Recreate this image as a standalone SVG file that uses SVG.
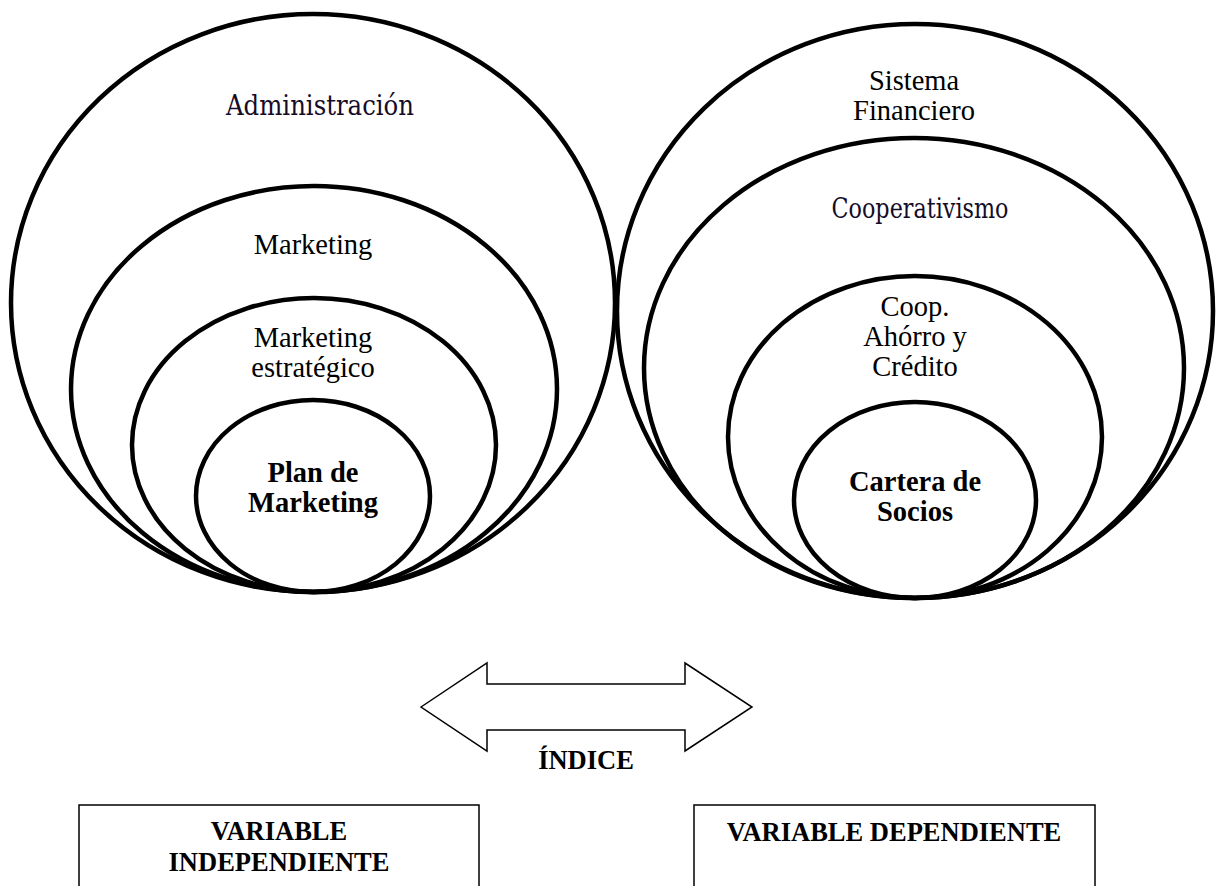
<svg xmlns="http://www.w3.org/2000/svg" width="1216" height="886" viewBox="0 0 1216 886">
  <style>
    .ring { fill: none; stroke: #000; stroke-width: 4.5; }
    .txt { font-family: "Liberation Serif", "Times New Roman", serif; font-size: 28.5px; fill: #000; text-anchor: middle; }
    .bold { font-weight: bold; }
    .alt { font-family: "DejaVu Serif", "Liberation Serif", serif; fill: #150c28; text-anchor: middle; }
    .box { fill: none; stroke: #000; stroke-width: 1.5; }
    .lbl { font-family: "Liberation Serif", "Times New Roman", serif; font-weight: bold; font-size: 26.5px; fill: #000; text-anchor: middle; }
  </style>
  <rect width="1216" height="886" fill="#fff"/>

  <!-- left nest -->
  <g id="administracion">
    <ellipse class="ring" cx="313" cy="303" rx="302" ry="289"/>
    <text class="alt" x="320" y="115" font-size="28" textLength="188" lengthAdjust="spacingAndGlyphs">Administración</text>
  </g>
  <g id="marketing">
    <ellipse class="ring" cx="314" cy="389" rx="243" ry="203"/>
    <text class="txt" x="313" y="254">Marketing</text>
  </g>
  <g id="marketing-estrategico">
    <ellipse class="ring" cx="314" cy="445" rx="182" ry="147"/>
    <text class="txt" x="313" y="347">Marketing</text>
    <text class="txt" x="313" y="377">estratégico</text>
  </g>
  <g id="plan-marketing">
    <ellipse class="ring" cx="313" cy="496" rx="117" ry="96"/>
    <text class="txt bold" x="313" y="482">Plan de</text>
    <text class="txt bold" x="313" y="512">Marketing</text>
  </g>

  <!-- right nest -->
  <g id="sistema-financiero">
    <ellipse class="ring" cx="915" cy="311" rx="298" ry="287"/>
    <text class="txt" x="914" y="90">Sistema</text>
    <text class="txt" x="914" y="120">Financiero</text>
  </g>
  <g id="cooperativismo">
    <ellipse class="ring" cx="914" cy="368" rx="270" ry="230"/>
    <text class="alt" x="920" y="218" font-size="27" textLength="177" lengthAdjust="spacingAndGlyphs">Cooperativismo</text>
  </g>
  <g id="coop-ahorro-credito">
    <ellipse class="ring" cx="915" cy="437" rx="187" ry="161"/>
    <text class="txt" x="915" y="316">Coop.</text>
    <text class="txt" x="915" y="346">Ahórro y</text>
    <text class="txt" x="915" y="376">Crédito</text>
  </g>
  <g id="cartera-socios">
    <ellipse class="ring" cx="915" cy="500" rx="121" ry="98"/>
    <text class="txt bold" x="915" y="491">Cartera de</text>
    <text class="txt bold" x="915" y="521">Socios</text>
  </g>

  <!-- two-way link -->
  <g id="connectors">
    <polygon class="box" points="421,707 487,663 487,684 685,684 685,663 752,707 685,751 685,730 487,730 487,751"/>
    <text class="lbl" x="586" y="769" font-size="23">ÍNDICE</text>
  </g>

  <!-- variable boxes -->
  <g id="variable-independiente">
    <rect class="box" x="79" y="805" width="400" height="100"/>
    <text class="lbl" x="279" y="840">VARIABLE</text>
    <text class="lbl" x="279" y="871">INDEPENDIENTE</text>
  </g>
  <g id="variable-dependiente">
    <rect class="box" x="694" y="805" width="401" height="100"/>
    <text class="lbl" x="894" y="841">VARIABLE DEPENDIENTE</text>
  </g>
</svg>
